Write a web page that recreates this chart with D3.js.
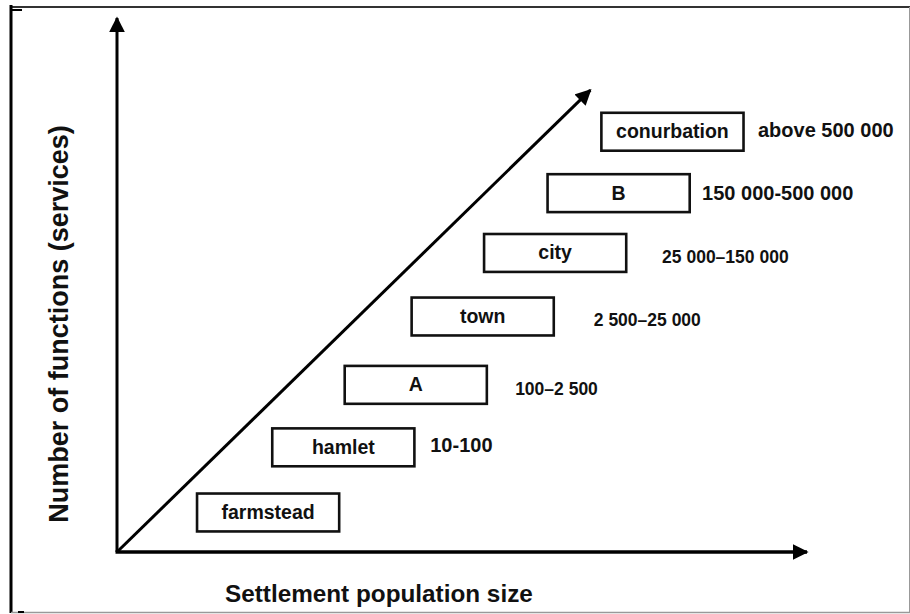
<!DOCTYPE html>
<html>
<head>
<meta charset="utf-8">
<script src="https://cdn.jsdelivr.net/npm/d3@7"></script>
<style>
  html, body { margin: 0; padding: 0; background: #fff; }
  svg { display: block; }
  text { font-family: "Liberation Sans", Arial, sans-serif; font-weight: bold; fill: #111; }
</style>
</head>
<body>
<div id="chart"></div>
<script>
// ---- data ----
const categories      = ["farmstead", "hamlet", "A", "town", "city", "B", "conurbation"];
const populationRanges = ["", "10-100", "100–2 500", "2 500–25 000", "25 000–150 000", "150 000-500 000", "above 500 000"];
// box centre position in axis units (0-100) along "population" and "functions"
const boxPopulation = [21.9, 32.8, 43.3, 53.0, 63.5, 72.7, 80.5];
const boxFunctions  = [7.4, 19.6, 31.3, 44.1, 56.0, 67.2, 78.7];
// range-label anchor in axis units
const rangeLabelX = [null, 45.4, 57.7, 69.1, 79.0, 84.8, 92.9];
const rangeLabelY = [null, 20.0, 30.7, 43.6, 55.4, 67.2, 79.0];
// trend arrow end point (axis units)
const trendEnd = [68.6, 86.5];
const xTitle = "Settlement population size";
const yTitle = "Number of functions (services)";

// ---- layout ----
const W = 910, H = 614;
const svg = d3.select("#chart").append("svg").attr("width", W).attr("height", H);

const x = d3.scaleLinear().domain([0, 100]).range([117, 807]);
const y = d3.scaleLinear().domain([0, 100]).range([552, 18]);
const boxW = 20.6, boxH = 7.1; // in axis units

// outer frame
svg.append("line").attr("x1", 11).attr("x2", W).attr("y1", 7).attr("y2", 7)
  .attr("stroke", "#333").attr("stroke-width", 2.2);
svg.append("line").attr("x1", 11).attr("x2", 11).attr("y1", 5).attr("y2", 613)
  .attr("stroke", "#000").attr("stroke-width", 3);
svg.append("line").attr("x1", 11).attr("x2", 22).attr("y1", 10).attr("y2", 10)
  .attr("stroke", "#000").attr("stroke-width", 2);
svg.append("line").attr("x1", 11).attr("x2", W).attr("y1", 612.5).attr("y2", 612.5)
  .attr("stroke", "#999").attr("stroke-width", 1.5);
svg.append("line").attr("x1", 18).attr("x2", 24).attr("y1", 612).attr("y2", 612)
  .attr("stroke", "#000").attr("stroke-width", 2);
svg.append("line").attr("x1", W - 0.5).attr("x2", W - 0.5).attr("y1", 7).attr("y2", 613)
  .attr("stroke", "#999").attr("stroke-width", 1);

// arrowhead marker
const defs = svg.append("defs");
defs.append("marker").attr("id", "ah")
  .attr("viewBox", "0 0 10 10").attr("refX", 9).attr("refY", 5)
  .attr("markerUnits", "userSpaceOnUse")
  .attr("markerWidth", 16).attr("markerHeight", 16)
  .attr("orient", "auto")
  .append("path").attr("d", "M0,0 L10,5 L0,10 Z").attr("fill", "#000");

// axes
svg.append("line")
  .attr("x1", x(0)).attr("y1", y(0)).attr("x2", x(0)).attr("y2", y(100))
  .attr("stroke", "#000").attr("stroke-width", 3).attr("marker-end", "url(#ah)");
svg.append("line")
  .attr("x1", x(0) - 1.5).attr("y1", y(0)).attr("x2", x(100)).attr("y2", y(0))
  .attr("stroke", "#000").attr("stroke-width", 3.5).attr("marker-end", "url(#ah)");

// trend arrow
svg.append("line")
  .attr("x1", x(0)).attr("y1", y(0)).attr("x2", x(trendEnd[0])).attr("y2", y(trendEnd[1]))
  .attr("stroke", "#000").attr("stroke-width", 3).attr("marker-end", "url(#ah)");

// boxes
const g = svg.append("g");
const items = categories.map((c, i) => ({
  name: c, px: boxPopulation[i], fy: boxFunctions[i],
  range: populationRanges[i], lx: rangeLabelX[i], ly: rangeLabelY[i]
}));

g.selectAll("rect.box").data(items).join("rect").attr("class", "box")
  .attr("x", d => x(d.px - boxW / 2))
  .attr("y", d => y(d.fy + boxH / 2))
  .attr("width", d => x(boxW) - x(0))
  .attr("height", d => y(0) - y(boxH))
  .attr("fill", "#fff").attr("stroke", "#111").attr("stroke-width", 2.6);

g.selectAll("text.name").data(items).join("text").attr("class", "name")
  .attr("x", d => x(d.px))
  .attr("y", d => y(d.fy) + 6.5)
  .attr("text-anchor", "middle")
  .attr("font-size", 19.5)
  .text(d => d.name);

g.selectAll("text.range").data(items.filter(d => d.range)).join("text").attr("class", "range")
  .attr("x", d => x(d.lx))
  .attr("y", d => y(d.ly) + 6.5)
  .attr("font-size", d => /–/.test(d.range) ? 17.5 : 20)
  .text(d => d.range);

// axis titles
svg.append("text")
  .attr("x", 225).attr("y", 602)
  .attr("font-size", 24.3)
  .text(xTitle);
svg.append("text")
  .attr("transform", "translate(68," + 324 + ") rotate(-90)")
  .attr("text-anchor", "middle")
  .attr("font-size", 27)
  .text(yTitle);
</script>
</body>
</html>
